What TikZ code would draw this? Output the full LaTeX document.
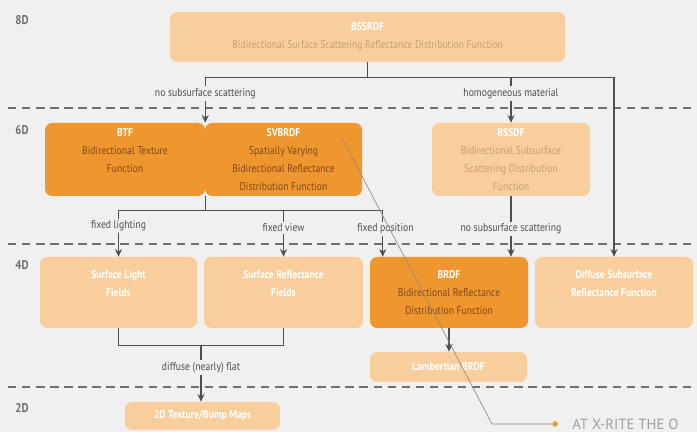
\documentclass[tikz,border=0pt]{standalone}
\usepackage{fontspec}
\setmainfont{PT Sans}[FakeStretch=0.86]
\newfontfamily\notefont{PT Sans}
\usetikzlibrary{arrows.meta,calc}
\definecolor{bg}{HTML}{F0F0F0}
\definecolor{darkor}{HTML}{F0962E}
\definecolor{lightor}{HTML}{F8CF9C}
\definecolor{brownt}{HTML}{7B4A1C}
\definecolor{tant}{HTML}{C49E76}
\definecolor{linec}{HTML}{4F4F4F}
\definecolor{dashc}{HTML}{6E6E6E}
\definecolor{notec}{HTML}{A0A0A0}
\definecolor{callc}{HTML}{9A8C80}
\newcommand{\boxtitle}[1]{{\bfseries\color{white}#1}}

\begin{document}
\begin{tikzpicture}[font=\fontsize{8}{12.8}\selectfont, >={Stealth[length=5.5pt,width=5pt]},
    darkbox/.style={fill=darkor, rounded corners=5pt, align=center, text=brownt, inner sep=1pt},
    lightbox/.style={fill=lightor, rounded corners=5pt, align=center, text=tant, inner sep=1pt},
    fieldbox/.style={lightbox, text=white, font=\bfseries\fontsize{8}{12.8}\selectfont},
    lbl/.style={fill=bg, text=linec, inner sep=1.5pt},
    layer/.style={text=dashc, font=\bfseries\fontsize{9}{9}\selectfont},
    conn/.style={draw=linec, line width=0.9pt},
    sep/.style={draw=dashc, line width=1.1pt, dash pattern=on 6pt off 4pt}]

    \fill[bg] (0, 0) rectangle (17.425, 10.8);
    \useasboundingbox (0, 0) rectangle (17.425, 10.8);

    \draw[sep] (0.2, 8.1) -- (17.425, 8.1);
    \draw[sep] (0.2, 4.7) -- (17.425, 4.7);
    \draw[sep] (0.2, 1.125) -- (17.425, 1.125);

    \node[layer] (d8) at (0.55, 10.3) {8D};
    \node[layer] (d6) at (0.55, 7.55) {6D};
    \node[layer] (d4) at (0.55, 4.175) {4D};
    \node[layer] (d2) at (0.55, 0.6) {2D};

    \node[lightbox, minimum width=9.875cm, minimum height=1.25cm] (bssrdf) at (9.19, 9.875) {\boxtitle{BSSRDF}\\Bidirectional Surface Scattering Reflectance Distribution Function};
    \node[darkbox, minimum width=4cm, minimum height=1.825cm] (btf) at (3.125, 6.8125) {\boxtitle{BTF}\\Bidirectional Texture\\Function\\~};
    \node[darkbox, minimum width=3.925cm, minimum height=1.825cm] (svbrdf) at (7.0875, 6.8125) {\boxtitle{SVBRDF}\\Spatially Varying\\Bidirectional Reflectance\\Distribution Function};
    \node[lightbox, minimum width=3.95cm, minimum height=1.825cm] (bssdf) at (12.775, 6.8125) {\boxtitle{BSSDF}\\Bidirectional Subsurface\\Scattering Distribution\\Function};
    \node[fieldbox, minimum width=3.925cm, minimum height=1.775cm] (slf) at (2.9625, 3.4875) {Surface Light\\Fields\\~};
    \node[fieldbox, minimum width=3.975cm, minimum height=1.775cm] (srf) at (7.0875, 3.4875) {Surface Reflectance\\Fields\\~};
    \node[darkbox, minimum width=3.95cm, minimum height=1.775cm] (brdf) at (11.225, 3.4875) {\boxtitle{BRDF}\\Bidirectional Reflectance\\Distribution Function};
    \node[fieldbox, minimum width=3.95cm, minimum height=1.775cm] (dsrf) at (15.35, 3.4875) {Diffuse Subsurface\\Reflectance Function\\~};
    \node[fieldbox, minimum width=3.925cm, minimum height=0.75cm] (lamb) at (11.2125, 1.625) {Lambertian BRDF};
    \node[fieldbox, minimum width=3.875cm, minimum height=0.7cm] (tex) at (5.0625, 0.4) {2D Texture/Bump Maps};

    \draw[conn] (bssrdf.south) -- ++(0, -0.375) coordinate (s1);
    \draw[conn, ->] (s1) -| (btf.north east) node[lbl, pos=0.68] {no subsurface scattering};
    \draw[conn, ->] (s1) -| (bssdf.north) node[lbl, pos=0.68] {homogeneous material};
    \draw[conn, ->] (s1) -| (dsrf.north);

    \draw[conn] (btf.south east) -- ++(0, -0.35) coordinate (s2);
    \draw[conn, ->] (s2) -| (slf.north) node[lbl, pos=0.67] {fixed lighting};
    \draw[conn, ->] (s2) -| (srf.north) node[lbl, pos=0.69] {fixed view};
    \draw[conn, ->] (s2) -| ($(brdf.north west)+(0.325, 0)$) node[lbl, pos=0.7, xshift=2pt] {fixed position};
    \draw[conn, ->] (bssdf.south) -- (bssdf.south |- brdf.north) node[lbl, pos=0.54] {no subsurface scattering};

    \draw[conn] (slf.south) -- ++(0, -0.425) -| (srf.south);
    \coordinate (s3) at ($(slf.south)!0.5!(srf.south)+(0, -0.425)$);
    \draw[conn, ->] (s3) -- (s3 |- tex.north) node[lbl, pos=0.39] {diffuse (nearly) flat};
    \draw[conn, ->] (brdf.south) -- (brdf.south |- lamb.north);

    \coordinate (c0) at (8.575, 7.3);
    \coordinate (c1) at (12.3, 0.2);
    \node[circle, fill=darkor, inner sep=0pt, minimum size=4pt] (dot) at (13.875, 0.2) {};
    \node[anchor=west, text=notec, inner sep=0pt, font=\notefont\fontsize{10.5}{10.5}\selectfont] (note) at (14.3, 0.2) {AT X-RITE THE O};
    \draw[callc, line width=0.5pt] (c0) -- (c1) -- (dot);

\end{tikzpicture}
\end{document}
